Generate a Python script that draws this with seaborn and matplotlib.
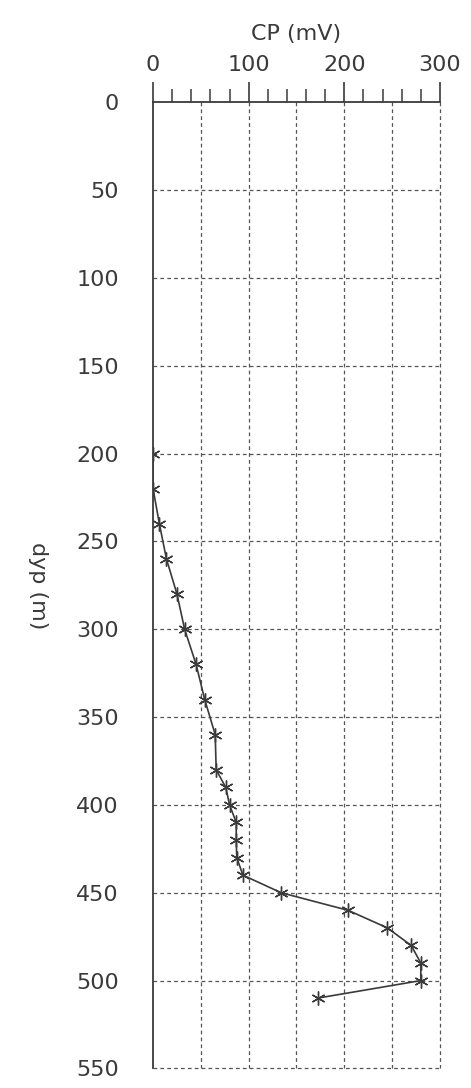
import numpy as np
import matplotlib
matplotlib.use("Agg")
import matplotlib.pyplot as plt
import seaborn as sns
import pandas as pd
from matplotlib.ticker import MultipleLocator

depth = [200, 220, 240, 260, 280, 300, 320, 340, 360, 380, 390, 400, 410,
         420, 430, 440, 450, 460, 470, 480, 490, 500, 510]
cp = [0, 0, 6.6, 14, 25, 33, 45, 54, 65, 66, 76, 80, 87,
      87, 87.5, 94, 134, 204, 245, 270, 280, 280, 172]
x_label = "CP (mV)"
y_label = "dyp (m)"

df = pd.DataFrame({"cp": cp, "depth": depth})

sns.set_theme(style="white")
plt.rcParams['font.family'] = ['DejaVu Sans']

fig = plt.figure(figsize=(4.71, 10.88), dpi=100)
ax = fig.add_axes([0.325, 0.018, 0.609, 0.888])

ink = "#3a3a3a"
# grid
for gx in np.arange(50, 301, 50):
    ax.plot([gx, gx], [0, 550], ls=(0, (3, 2.5)), color="#555555", lw=0.9, clip_on=False, zorder=1)
for gy in np.arange(50, 551, 50):
    ax.plot([0, 300], [gy, gy], ls=(0, (3, 2.5)), color="#555555", lw=0.9, clip_on=False, zorder=1)

sns.lineplot(data=df, x="cp", y="depth", sort=False, estimator=None, ax=ax,
             color=ink, lw=1.2, marker=(6, 2, 0), markersize=10,
             markeredgecolor=ink, markeredgewidth=1.0, zorder=3)

ax.set_xlim(0, 300)
ax.set_ylim(550, 0)
ax.xaxis.set_ticks_position("top")
ax.xaxis.set_label_position("top")
ax.xaxis.set_major_locator(MultipleLocator(100))
ax.xaxis.set_minor_locator(MultipleLocator(20))
ax.yaxis.set_major_locator(MultipleLocator(50))
ax.yaxis.set_minor_locator(MultipleLocator(10))

for s in ["right", "bottom"]:
    ax.spines[s].set_visible(False)
for s in ["top", "left"]:
    ax.spines[s].set_color(ink)
    ax.spines[s].set_linewidth(1.3)

ax.tick_params(axis="both", which="major", direction="out", length=14.5, width=1.2,
               color=ink, labelcolor=ink, labelsize=16)
ax.tick_params(axis="both", which="minor", direction="out", length=9.5, width=1.1, color=ink)
ax.tick_params(axis="y", which="major", pad=10)
ax.tick_params(axis="x", which="major", pad=5)

ax.set_xlabel(x_label, fontsize=16, color=ink, labelpad=11)
ax.set_ylabel(y_label, fontsize=16, color=ink, rotation=270, ha="center", va="center")
ax.yaxis.set_label_coords(-0.40, 0.5)
ax.grid(False)

fig.savefig("out.png", dpi=100)
